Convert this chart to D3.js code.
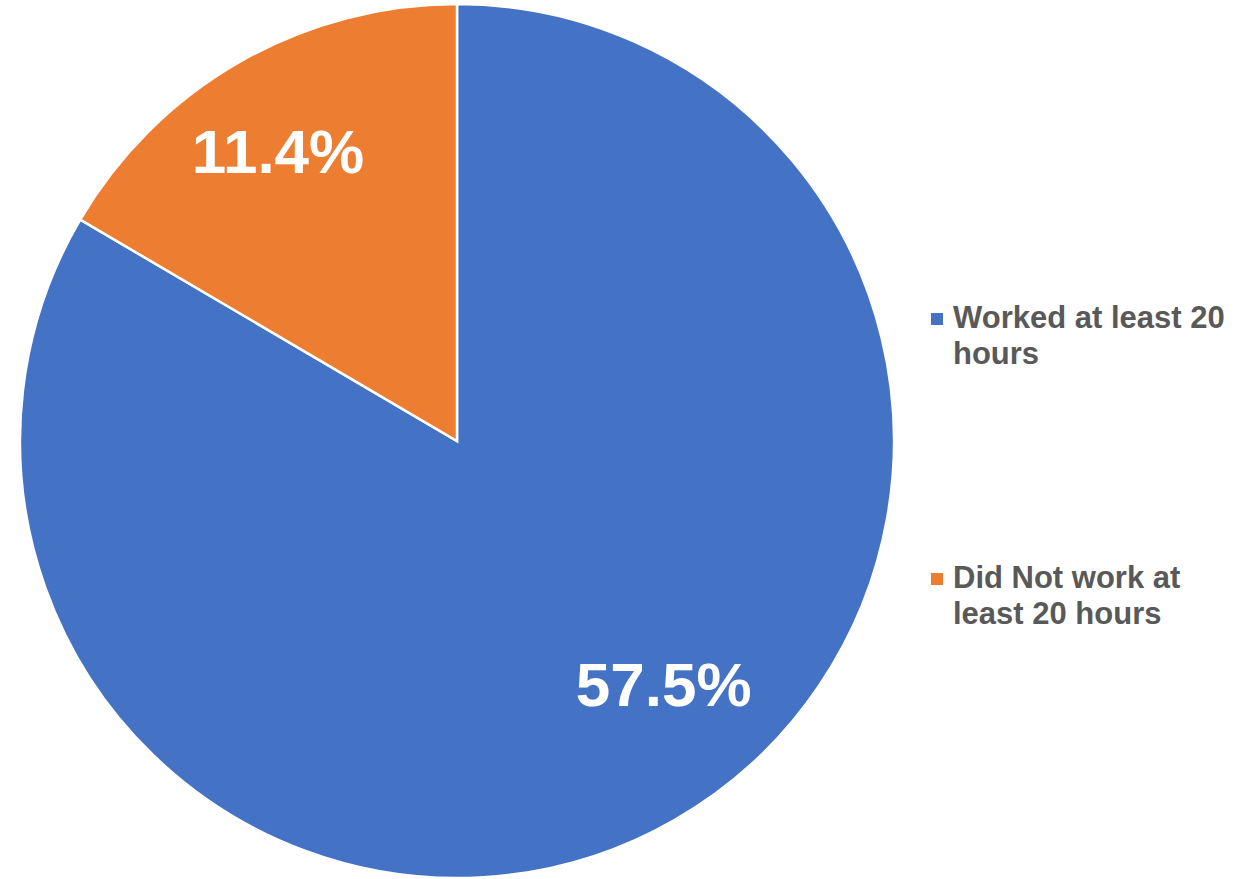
<!DOCTYPE html>
<html lang="en">
<head>
  <meta charset="UTF-8">
  <script src="https://d3js.org/d3.v7.min.js"></script>
  <title>Pie chart</title>
  <style>
    body { margin: 0; background: #fff; }
  </style>
</head>
<body>
  <svg style="width:1235px;height:879px"></svg>
  <script>
    const categories = ["Worked at least 20 hours", "Did Not work at least 20 hours"];
    const values = [57.5, 11.4];
    const colors = ["#4472C4", "#ED7D31"];
    const valueLabels = ["57.5%", "11.4%"];
    // legend lines, wrapped like the original
    const legendLines = [["Worked at least 20", "hours"], ["Did Not work at", "least 20 hours"]];

    const svg = d3.select("svg");
    const cx = 457, cy = 441, radius = 437;

    const pie = d3.pie().sort(null).value(d => d);
    const arc = d3.arc().innerRadius(0).outerRadius(radius);

    // label placement: fraction of radius and angle shift (radians) from the slice middle
    const labelPlace = [{ r: 0.73, shift: -0.185 }, { r: 0.78, shift: -0.033 }];

    const g = svg.append("g").attr("transform", `translate(${cx},${cy})`);
    const slices = pie(values);

    g.selectAll("path")
      .data(slices)
      .enter()
      .append("path")
      .attr("d", arc)
      .attr("fill", (d, i) => colors[i])
      .attr("stroke", "#fff")
      .attr("stroke-width", 2.5);

    g.selectAll("text")
      .data(slices)
      .enter()
      .append("text")
      .attr("transform", (d, i) => {
        const a = (d.startAngle + d.endAngle) / 2 + labelPlace[i].shift;
        const r = radius * labelPlace[i].r;
        return `translate(${r * Math.sin(a)},${-r * Math.cos(a)})`;
      })
      .attr("text-anchor", "middle")
      .attr("dy", "0.36em")
      .style("font-family", "Liberation Sans, Arial, sans-serif")
      .style("font-weight", "bold")
      .style("font-size", "62px")
      .style("fill", "#fff")
      .text((d, i) => valueLabels[i]);

    // legend
    const legendY = d3.scalePoint().domain(categories).range([328, 588]);
    const legend = svg.selectAll("g.legend")
      .data(categories)
      .enter()
      .append("g")
      .attr("class", "legend")
      .attr("transform", d => `translate(931,${legendY(d)})`);

    legend.append("rect")
      .attr("x", 0)
      .attr("y", -15)
      .attr("width", 12)
      .attr("height", 12)
      .attr("fill", (d, i) => colors[i]);

    legend.append("text")
      .attr("x", 22)
      .style("font-family", "Liberation Sans, Arial, sans-serif")
      .style("font-weight", "bold")
      .style("font-size", "31px")
      .style("fill", "#595959")
      .selectAll("tspan")
      .data((d, i) => legendLines[i])
      .enter()
      .append("tspan")
      .attr("x", 22)
      .attr("dy", (d, i) => i === 0 ? 0 : 36)
      .text(d => d);
  </script>
</body>
</html>
